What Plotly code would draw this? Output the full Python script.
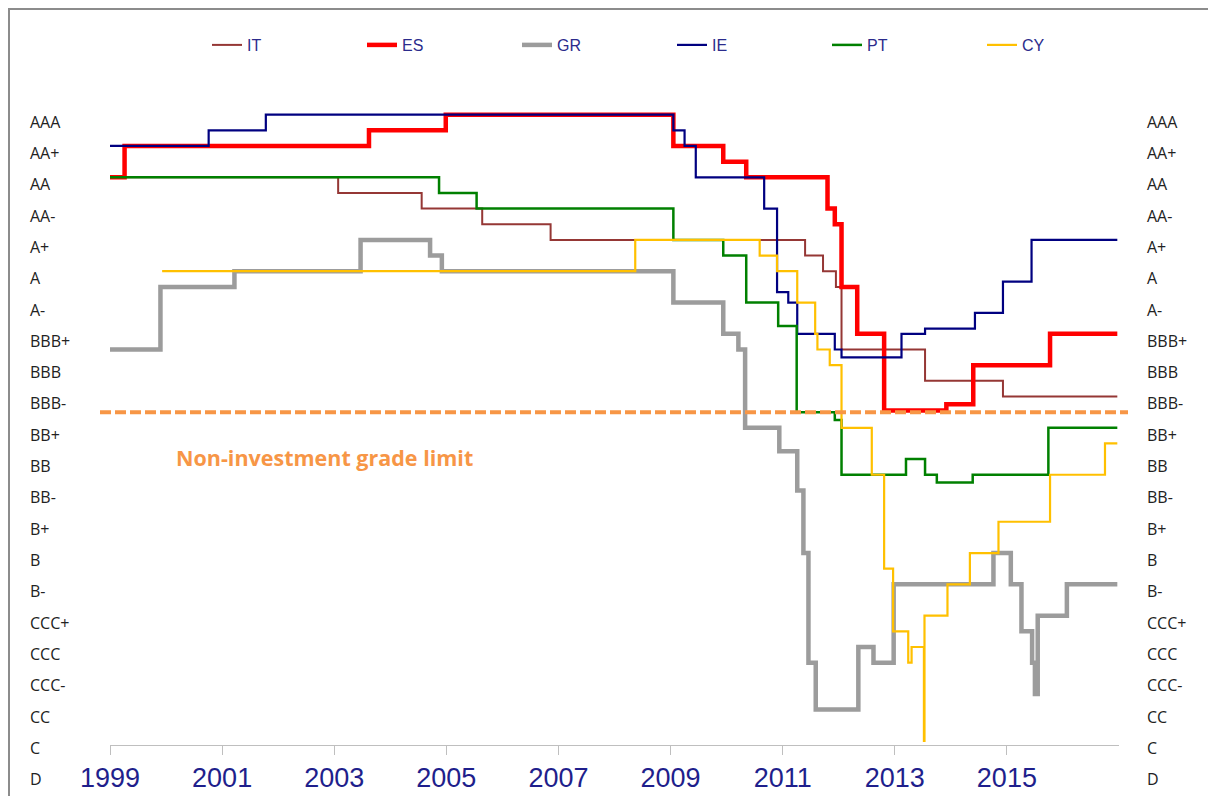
import plotly.graph_objects as go

# ---------------- data ----------------
RATING_LABELS = ["AAA", "AA+", "AA", "AA-", "A+", "A", "A-", "BBB+", "BBB", "BBB-",
                 "BB+", "BB", "BB-", "B+", "B", "B-", "CCC+", "CCC", "CCC-", "CC", "C", "D"]
YEAR_TICKS = [1999, 2001, 2003, 2005, 2007, 2009, 2011, 2013, 2015]
NIG_LIMIT = 9.5  # between BBB- and BB+
NIG_TEXT = "Non-investment grade limit"

# rating notch (0 = AAA ... 21 = D), step changes at decimal years
IT_x = [1999.0, 2003.07, 2004.56, 2005.64, 2006.86, 2011.40, 2011.72, 2011.95, 2012.05, 2013.54, 2014.93, 2016.97]
IT_y = [2, 2.5, 3, 3.5, 4, 4.5, 5, 5.5, 7.5, 8.5, 9, 9]

ES_x = [1999.0, 1999.26, 2003.62, 2004.99, 2009.05, 2009.94, 2010.35, 2011.80, 2011.93, 2012.05, 2012.33,
        2012.81, 2013.92, 2014.40, 2015.77, 2016.97]
ES_y = [2, 1, 0.5, 0, 1, 1.5, 2, 3, 3.5, 5.5, 7, 9.45, 9.25, 8, 7, 7]

GR_x = [1999.0, 1999.90, 2001.22, 2003.47, 2004.71, 2004.92, 2009.05, 2009.94, 2010.21, 2010.33, 2010.94,
        2011.26, 2011.37, 2011.46, 2011.59, 2012.35, 2012.62, 2012.98, 2014.76, 2015.07, 2015.26, 2015.45,
        2015.50, 2015.55, 2016.07, 2016.97]
GR_y = [7.5, 5.5, 5, 4, 4.5, 5, 6, 7, 7.5, 10, 10.75, 12, 14, 17.5, 19, 17, 17.5, 15, 14, 15, 16.5, 17.5,
        18.5, 16, 15, 15]

IE_x = [1999.0, 2000.76, 2001.78, 2009.05, 2009.25, 2009.45, 2010.67, 2010.90, 2011.10, 2011.26, 2011.93,
        2012.05, 2013.12, 2013.54, 2014.43, 2014.93, 2015.44, 2016.97]
IE_y = [1, 0.5, 0, 0.5, 1, 2, 3, 5.67, 6, 7, 7.5, 7.75, 7, 6.83, 6.33, 5.33, 4, 4]

PT_x = [1999.0, 2004.87, 2005.54, 2009.05, 2009.94, 2010.35, 2010.92, 2011.25, 2011.93, 2012.05, 2013.20,
        2013.54, 2013.75, 2014.39, 2015.74, 2016.97]
PT_y = [2, 2.5, 3, 4, 4.5, 6, 6.75, 9.5, 9.75, 11.5, 11, 11.5, 11.75, 11.5, 10, 10]

CY_x = [1999.93, 2008.37, 2010.59, 2010.90, 2011.26, 2011.58, 2011.62, 2011.84, 2012.05, 2012.59, 2012.81,
        2012.97, 2013.24, 2013.30, 2013.52, 2013.53, 2013.94, 2014.34, 2014.85, 2015.77, 2016.75, 2016.97]
CY_y = [5, 4, 4.5, 5, 6, 7, 7.5, 8, 10, 11.5, 14.5, 16.5, 17.5, 17, 20, 16, 15, 14, 13, 11.5, 10.5, 10.5]

SERIES = [
    ("IT", IT_x, IT_y, "#953735", 2),
    ("ES", ES_x, ES_y, "#FF0000", 4.5),
    ("GR", GR_x, GR_y, "#9C9C9C", 4.5),
    ("IE", IE_x, IE_y, "#000080", 2.2),
    ("PT", PT_x, PT_y, "#008000", 2.5),
    ("CY", CY_x, CY_y, "#FFC000", 2.2),
]

# ---------------- layout helpers ----------------
W, H = 1208, 796
# plot area in page pixels
PL, PR, PTOP, PB = 110, 1119, 99, 745
Y_BOT, Y_TOP = 20.13, -0.5  # notch range of the plot area (reversed axis)


def px_x(px):
    return (px - PL) / (PR - PL)


def px_y(py):
    return (PB - py) / (PB - PTOP)


def notch_paper(n):
    return (Y_BOT - n) / (Y_BOT - Y_TOP)


fig = go.Figure()
for name, xs, ys, color, width in SERIES:
    fig.add_trace(go.Scatter(x=xs, y=ys, mode="lines", name=name, line_shape="hv",
                             line=dict(color=color, width=width)))

# rating labels on both sides
for i, lab in enumerate(RATING_LABELS):
    for xp in (28, 1145):
        fig.add_annotation(x=px_x(xp), xref="paper", y=notch_paper(i), yref="paper", yshift=-7,
                           text=lab, showarrow=False, xanchor="left", yanchor="middle",
                           font=dict(family="Open Sans", size=16, color="#222222"))

fig.add_annotation(x=px_x(174), xref="paper", y=px_y(457), yref="paper", text=NIG_TEXT,
                   showarrow=False, xanchor="left", yanchor="middle",
                   font=dict(family="Open Sans", size=21.5, color="#F79646", weight="bold"))

fig.add_shape(type="line", xref="paper", yref="y", x0=px_x(100), x1=px_x(1128),
              y0=NIG_LIMIT, y1=NIG_LIMIT, line=dict(color="#F79646", width=4, dash="11px,4px"))

# outer frame
fig.add_shape(type="rect", xref="paper", yref="paper", x0=px_x(9), x1=px_x(1240),
              y0=px_y(830), y1=px_y(9), line=dict(color="#8C8C8C", width=2), layer="below")

fig.update_layout(
    width=W, height=H,
    margin=dict(l=PL, r=W - PR, t=PTOP, b=H - PB, autoexpand=False),
    paper_bgcolor="white", plot_bgcolor="white",
    showlegend=True,
    legend=dict(orientation="h", xref="container", yref="container",
                x=207 / W, y=1 - 45 / H, xanchor="left", yanchor="middle",
                entrywidth=110, entrywidthmode="pixels", traceorder="normal",
                font=dict(family="Arial", size=16, color="#2B2B8C"), bgcolor="rgba(0,0,0,0)"),
    xaxis=dict(range=[1999, 2017], tickvals=YEAR_TICKS, ticktext=[str(y) for y in YEAR_TICKS],
               automargin=False,
               showgrid=False, zeroline=False, showline=True, linecolor="#BFBFBF", linewidth=1,
               ticks="outside", ticklen=9, tickcolor="#BFBFBF",
               tickfont=dict(family="Arial", size=27, color="#1F1F8C")),
    yaxis=dict(range=[Y_BOT, Y_TOP], showticklabels=False, showgrid=False, zeroline=False,
               automargin=False, showline=False, ticks=""),
)

fig.write_html("out.html", config={"displayModeBar": False},
               post_script="document.body.style.margin='0px';document.body.style.overflow='hidden';")
